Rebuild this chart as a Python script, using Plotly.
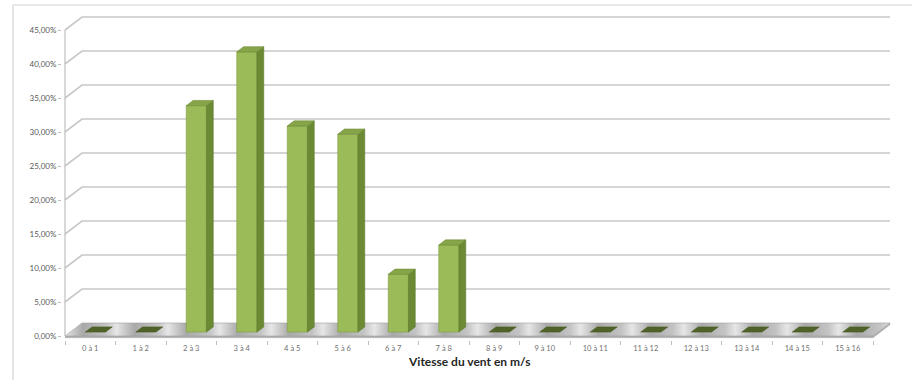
import plotly.graph_objects as go

# Wind speed distribution (share of time per 1 m/s class)
categories = ["0 à 1", "1 à 2", "2 à 3", "3 à 4", "4 à 5", "5 à 6", "6 à 7", "7 à 8",
              "8 à 9", "9 à 10", "10 à 11", "11 à 12", "12 à 13", "13 à 14", "14 à 15", "15 à 16"]
values = [0, 0, 33.3, 41.2, 30.3, 29.1, 8.5, 12.8, 0, 0, 0, 0, 0, 0, 0, 0]
y_ticks = [0, 5, 10, 15, 20, 25, 30, 35, 40, 45]
y_labels = [f"{v:.2f}".replace(".", ",") + "%" for v in y_ticks]

W, H = 912, 380
PX_X, PX_Y = 50.5, 6.8          # pixels per category / per percent
L, R, T, B = 62, 10, 10, 40
XMIN = -3 / PX_X
XMAX = XMIN + (W - L - R) / PX_X
YMIN = -4 / PX_Y
YMAX = YMIN + (H - T - B) / PX_Y

# oblique depth of the 3-D box, in data units
DX, DY = 17 / PX_X, 13 / PX_Y
D0, D1 = 0.30, 0.70              # depth span of the columns
BW = 0.40                        # column width (category units)
n = len(categories)


def poly(xs, ys, fill, line, width=0.6):
    return go.Scatter(x=xs, y=ys, fill="toself", fillcolor=fill, mode="lines",
                      line=dict(color=line, width=width), hoverinfo="skip", showlegend=False)


fig = go.Figure()

# floor slab (front edge)
fig.add_trace(poly([0, n, n + DX, n + DX, n, 0], [0, 0, DY, DY - 0.25, -0.25, -0.25],
                   "#b0b0b0", "#a8a8a8", 0.5))

# floor top with reflective stripes
stops = []
for i in range(n):
    a = i / n
    stops += [[a, "#e6e6e6"], [a + 0.35 / n, "#a9a9a9"], [a + 0.8 / n, "#c4c4c4"]]
stops.append([1.0, "#dcdcdc"])
fig.add_trace(go.Scatter(
    x=[0, n, n + DX, DX, 0], y=[0, 0, DY, DY, 0],
    fill="toself", fillgradient=dict(type="horizontal", colorscale=stops),
    line=dict(color="#a0a0a0", width=0.6),
    mode="lines", hoverinfo="skip", showlegend=False))

# gridlines: side-wall connector plus back-wall line
gx, gy = [], []
for v in y_ticks[1:]:
    gx += [0, DX, n + DX, None]
    gy += [v, v + DY, v + DY, None]
fig.add_trace(go.Scatter(x=gx, y=gy, mode="lines", line=dict(color="#c8c8c8", width=1.6),
                         hoverinfo="skip", showlegend=False))

# front value axis line
fig.add_trace(go.Scatter(x=[0, 0], y=[0, y_ticks[-1]], mode="lines",
                         line=dict(color="#bfbfbf", width=1.2), hoverinfo="skip", showlegend=False))

# column faces
base = D0 * DY
fx, fy, sx, sy, tx, ty, zx, zy = [], [], [], [], [], [], [], []
ddx, ddy = (D1 - D0) * DX, (D1 - D0) * DY
for i, v in enumerate(values):
    xl = i + 0.5 + D0 * DX - BW / 2
    xr = xl + BW
    top = base + v
    face_x = [xl, xr, xr + ddx, xl + ddx, xl, None]
    face_y = [top, top, top + ddy, top + ddy, top, None]
    if v > 0:
        fx += [xl, xr, xr, xl, xl, None]
        fy += [base, base, top, top, base, None]
        sx += [xr, xr + ddx, xr + ddx, xr, xr, None]
        sy += [base, base + ddy, top + ddy, top, base, None]
        tx += face_x
        ty += face_y
    else:
        zx += face_x
        zy += face_y

fig.add_trace(poly(fx, fy, "#9bbb59", "#7f9c45"))
fig.add_trace(poly(sx, sy, "#6b8a33", "#5f7a2d"))
fig.add_trace(poly(tx, ty, "#86a548", "#6e8c38"))
fig.add_trace(poly(zx, zy, "#4f6228", "#4a5c25"))

fig.update_layout(
    width=W, height=H, margin=dict(l=L, r=R, t=T, b=B),
    paper_bgcolor="white", plot_bgcolor="white",
    font=dict(family="Lato, 'Open Sans', sans-serif", color="#595959"),
    xaxis=dict(range=[XMIN, XMAX], showgrid=False, zeroline=False, showline=False,
               tickmode="array", tickvals=[i + 0.5 for i in range(n)], ticktext=categories,
               ticks="", ticklabelstandoff=2, tickfont=dict(size=7.5, color="#6f6f6f"),
               minor=dict(tickmode="array", tickvals=list(range(n + 1)), ticks="outside",
                          ticklen=4, tickcolor="#bfbfbf", showgrid=False)),
    yaxis=dict(range=[YMIN, YMAX], showgrid=False, zeroline=False, showline=False,
               tickmode="array", tickvals=y_ticks, ticktext=y_labels,
               ticks="outside", ticklen=3, tickcolor="#bfbfbf",
               tickfont=dict(size=8, color="#595959")),
    shapes=[dict(type="rect", xref="paper", yref="paper",
                 x0=(13 - L) / (W - L - R), x1=(W + 5 - L) / (W - L - R),
                 y0=-(B + 5) / (H - T - B), y1=(H - B - 5) / (H - T - B),
                 line=dict(color="#d4d4d4", width=1.2), layer="below")],
    annotations=[dict(text="<b>Vitesse du vent en m/s</b>", xref="paper", yref="paper",
                      x=(469 - L) / (W - L - R), y=-(361 - (H - B)) / (H - T - B),
                      showarrow=False, font=dict(size=12, color="#262626"),
                      xanchor="center", yanchor="middle")],
)

fig.write_html("out.html")
